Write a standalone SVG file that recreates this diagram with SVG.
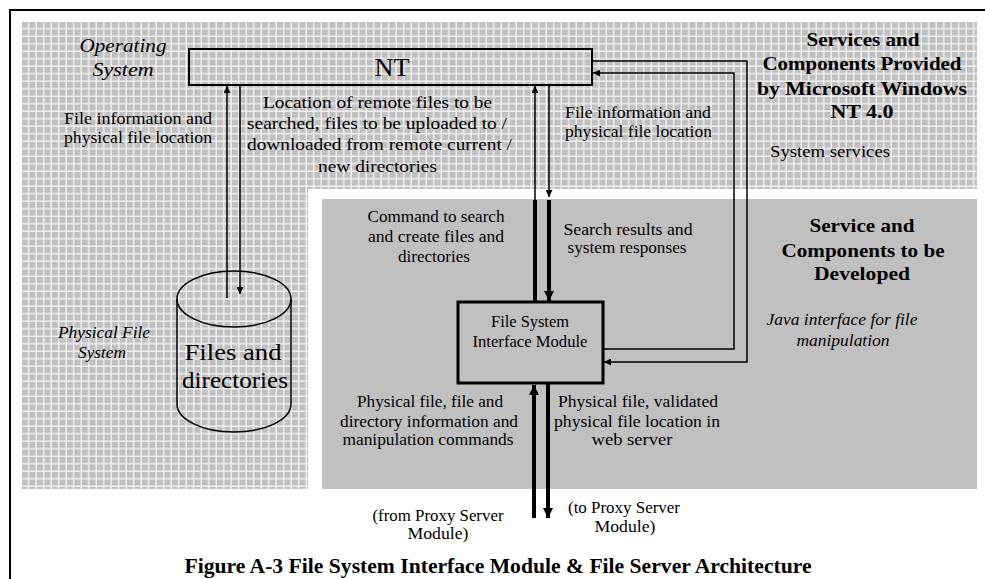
<svg xmlns="http://www.w3.org/2000/svg" width="985" height="579" viewBox="0 0 985 579">
<style>
  text { font-family: "Liberation Serif", "DejaVu Serif", serif; fill: #000; }
  .t { font-size: 16px; }
  .tc { font-size: 16px; text-anchor: middle; }
  .ti { font-size: 16px; font-style: italic; text-anchor: middle; }
  .hb { font-size: 19px; font-weight: bold; text-anchor: middle; }
  .big { font-size: 23px; text-anchor: middle; }
  .thin { fill: none; stroke: #000; stroke-width: 1.5; }
  .thick { fill: none; stroke: #000; stroke-width: 4; }
</style>
<defs>
  <pattern id="grid" x="22" y="22" width="7.5" height="7.5" patternUnits="userSpaceOnUse">
    <rect width="7.5" height="7.5" fill="#efefef"/>
    <rect x="0" y="0" width="6" height="6" fill="#c0c0c0"/>
  </pattern>
  <marker id="ah" viewBox="0 0 10 10" refX="10" refY="5" markerWidth="7" markerHeight="7" markerUnits="userSpaceOnUse" orient="auto">
    <path d="M0,0 L10,5 L0,10 z" fill="#000"/>
  </marker>
  <marker id="ahb" viewBox="0 0 10 10" refX="10" refY="5" markerWidth="10" markerHeight="10" markerUnits="userSpaceOnUse" orient="auto">
    <path d="M0,0 L10,5 L0,10 z" fill="#000"/>
  </marker>
</defs>

<rect width="985" height="579" fill="#fff"/>

<g id="frame">
  <path d="M10,579 L10,10 L985,10" fill="none" stroke="#000" stroke-width="2"/>
</g>

<g id="regions">
  <path d="M22,22 H977 V189 H308 V489 H22 Z" fill="url(#grid)"/>
  <rect x="322" y="199" width="655" height="290" fill="#c0c0c0"/>
</g>

<g id="region-labels">
  <text class="ti" style="font-size:19px" x="123" y="52" textLength="87" lengthAdjust="spacingAndGlyphs">Operating</text>
  <text class="ti" style="font-size:19px" x="123" y="76" textLength="61" lengthAdjust="spacingAndGlyphs">System</text>
  <text class="hb" x="863" y="46" textLength="113" lengthAdjust="spacingAndGlyphs">Services and</text>
  <text class="hb" x="862" y="70" textLength="199" lengthAdjust="spacingAndGlyphs">Components Provided</text>
  <text class="hb" x="862" y="95" textLength="210" lengthAdjust="spacingAndGlyphs">by Microsoft Windows</text>
  <text class="hb" x="862" y="118" textLength="63" lengthAdjust="spacingAndGlyphs">NT 4.0</text>
  <text class="t" x="770" y="157" textLength="120" lengthAdjust="spacingAndGlyphs">System services</text>
  <text class="hb" x="862" y="232" textLength="105" lengthAdjust="spacingAndGlyphs">Service and</text>
  <text class="hb" x="863" y="257" textLength="163" lengthAdjust="spacingAndGlyphs">Components to be</text>
  <text class="hb" x="862" y="280" textLength="96" lengthAdjust="spacingAndGlyphs">Developed</text>
  <text class="ti" x="842" y="325" textLength="151" lengthAdjust="spacingAndGlyphs">Java interface for file</text>
  <text class="ti" x="843" y="346" textLength="93" lengthAdjust="spacingAndGlyphs">manipulation</text>
  <text class="ti" x="104" y="338" textLength="92" lengthAdjust="spacingAndGlyphs">Physical File</text>
  <text class="ti" x="102" y="358" textLength="48" lengthAdjust="spacingAndGlyphs">System</text>
</g>

<g id="nt">
  <rect x="189" y="49" width="403" height="36" fill="none" stroke="#000" stroke-width="2"/>
  <text class="big" style="font-size:25px" x="392" y="76" textLength="35" lengthAdjust="spacingAndGlyphs">NT</text>
</g>

<g id="files">
  <path d="M177,299 V404 A57,28 0 0 0 291,404 V299" fill="none" stroke="#000" stroke-width="1.5"/>
  <ellipse cx="234" cy="299" rx="57" ry="28" fill="none" stroke="#000" stroke-width="1.5"/>
  <text class="big" x="233" y="360" textLength="97" lengthAdjust="spacingAndGlyphs">Files and</text>
  <text class="big" x="235" y="388" textLength="106" lengthAdjust="spacingAndGlyphs">directories</text>
</g>

<g id="fsim">
  <rect x="458" y="302" width="145" height="81" fill="none" stroke="#000" stroke-width="3"/>
  <text class="tc" x="530" y="327" textLength="78" lengthAdjust="spacingAndGlyphs">File System</text>
  <text class="tc" x="530" y="347" textLength="115" lengthAdjust="spacingAndGlyphs">Interface Module</text>
</g>

<g id="connectors">
  <line class="thin" x1="227" y1="298" x2="227" y2="86" marker-end="url(#ah)"/>
  <line class="thin" x1="240" y1="85" x2="240" y2="294" marker-end="url(#ah)"/>
  <line class="thick" x1="535" y1="302" x2="535" y2="200"/>
  <line class="thin" x1="535" y1="200" x2="535" y2="86" marker-end="url(#ah)"/>
  <line class="thin" x1="549" y1="85" x2="549" y2="197" marker-end="url(#ah)"/>
  <line class="thick" x1="549" y1="200" x2="549" y2="301" marker-end="url(#ahb)"/>
  <polyline class="thin" points="592,61 747,61 747,362 604,362" marker-end="url(#ah)"/>
  <polyline class="thin" points="603,349 734,349 734,73 593,73" marker-end="url(#ah)"/>
  <line class="thick" x1="534" y1="518" x2="534" y2="385" marker-end="url(#ahb)"/>
  <line class="thick" x1="548" y1="383" x2="548" y2="518" marker-end="url(#ahb)"/>
</g>

<g id="connector-labels">
  <text class="t" x="64" y="124" textLength="148" lengthAdjust="spacingAndGlyphs">File information and</text>
  <text class="t" x="64" y="143" textLength="148" lengthAdjust="spacingAndGlyphs">physical file location</text>
  <text class="t" x="263" y="108" textLength="229" lengthAdjust="spacingAndGlyphs">Location of remote files to be</text>
  <text class="t" x="247" y="129" textLength="260" lengthAdjust="spacingAndGlyphs">searched, files to be uploaded to /</text>
  <text class="t" x="247" y="150" textLength="265" lengthAdjust="spacingAndGlyphs">downloaded from remote current /</text>
  <text class="t" x="318" y="172" textLength="119" lengthAdjust="spacingAndGlyphs">new directories</text>
  <text class="t" x="565" y="118" textLength="146" lengthAdjust="spacingAndGlyphs">File information and</text>
  <text class="t" x="565" y="137" textLength="147" lengthAdjust="spacingAndGlyphs">physical file location</text>
  <text class="tc" x="436" y="222" textLength="137" lengthAdjust="spacingAndGlyphs">Command to search</text>
  <text class="tc" x="436" y="242" textLength="136" lengthAdjust="spacingAndGlyphs">and create files and</text>
  <text class="tc" x="434" y="262" textLength="72" lengthAdjust="spacingAndGlyphs">directories</text>
  <text class="tc" x="628" y="235" textLength="129" lengthAdjust="spacingAndGlyphs">Search results and</text>
  <text class="tc" x="627" y="253" textLength="119" lengthAdjust="spacingAndGlyphs">system responses</text>
  <text class="tc" x="430" y="407" textLength="146" lengthAdjust="spacingAndGlyphs">Physical file, file and</text>
  <text class="tc" x="429" y="427" textLength="178" lengthAdjust="spacingAndGlyphs">directory information and</text>
  <text class="tc" x="428" y="445" textLength="171" lengthAdjust="spacingAndGlyphs">manipulation commands</text>
  <text class="tc" x="638" y="407" textLength="160" lengthAdjust="spacingAndGlyphs">Physical file, validated</text>
  <text class="tc" x="637" y="427" textLength="166" lengthAdjust="spacingAndGlyphs">physical file location in</text>
  <text class="tc" x="632" y="445" textLength="81" lengthAdjust="spacingAndGlyphs">web server</text>
  <text class="tc" x="438" y="521" textLength="131" lengthAdjust="spacingAndGlyphs">(from Proxy Server</text>
  <text class="tc" x="438" y="539" textLength="61" lengthAdjust="spacingAndGlyphs">Module)</text>
  <text class="tc" x="624" y="513" textLength="112" lengthAdjust="spacingAndGlyphs">(to Proxy Server</text>
  <text class="tc" x="625" y="532" textLength="61" lengthAdjust="spacingAndGlyphs">Module)</text>
</g>

<g id="caption">
  <text class="hb" style="font-size:20px" x="498" y="573" textLength="627" lengthAdjust="spacingAndGlyphs">Figure A-3 File System Interface Module &amp; File Server Architecture</text>
</g>
</svg>
